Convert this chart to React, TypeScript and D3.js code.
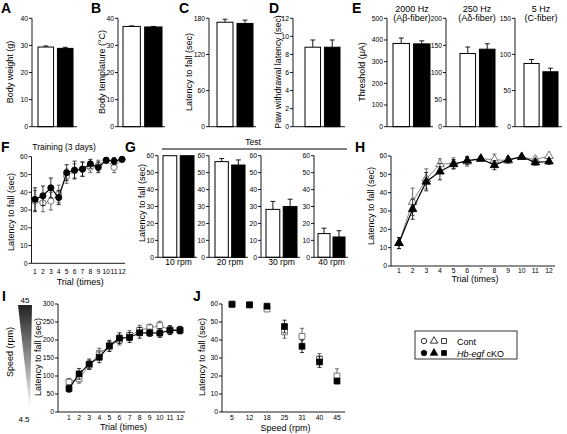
import React from 'react';
import * as d3 from 'd3';

const FONT = '"Liberation Sans", Arial, Helvetica, sans-serif';
const groups = ['Cont', 'cKO'];

// Panel A-E bar data [Cont, cKO]
const bodyWeight = [29.4, 28.9];
const bodyWeightErr = [0.4, 0.4];
const bodyTemp = [37.0, 36.8];
const bodyTempErr = [0.2, 0.2];
const latencyC = [173.5, 171.5];
const latencyCErr = [5, 5.5];
const pawLatency = [8.8, 8.8];
const pawLatencyErr = [0.8, 0.8];
const thr2000 = [384, 382];
const thr2000Err = [25, 14];
const thr250 = [135, 143];
const thr250Err = [12, 10];
const thr5 = [87.5, 76];
const thr5Err = [5.5, 5];

// Panel G
const testSpeeds = ['10 rpm', '20 rpm', '30 rpm', '40 rpm'];
const testValues = [[60, 60], [56.5, 54.5], [28.3, 30], [14, 12]];
const testErrs = [[0, 0], [1.8, 3], [4.7, 4.3], [3.2, 3.7]];

// Trials
const trials = [1, 2, 3, 4, 5, 6, 7, 8, 9, 10, 11, 12];

// Panel F
const fCont = [35, 34, 35, 39, 49, 52, 53, 54, 55, 58, 54, 58.5];
const fContErr = [6, 5, 5, 5, 4, 4, 4, 3, 3, 1.5, 3, 1];
const fKO = [36, 38, 42.5, 37, 51, 52.5, 53, 56, 54, 58, 57.5, 58.5];
const fKOErr = [6.5, 5.5, 5.5, 4, 4.5, 5, 4, 2.5, 3, 1.5, 2, 1];

// Panel H
const hCont = [12.5, 35, 47.5, 55.5, 56, 57, 58.5, 58, 57.5, 59.5, 58, 60];
const hContErr = [3, 7.5, 5.5, 3, 3, 2.5, 1, 3, 1.5, 0.8, 1.5, 0.8];
const hKO = [12.5, 31, 46, 51.5, 55.5, 57.5, 58.5, 55, 58, 59.5, 56.5, 57];
const hKOErr = [3, 5.5, 5, 4.5, 2.5, 2, 1, 2.5, 1.5, 0.8, 1.5, 1.5];

// Panel I
const iCont = [83, 92, 130, 163, 182, 200, 212, 227, 234, 240, 228, 228];
const iContErr = [10, 12, 12, 14, 14, 14, 14, 14, 10, 12, 12, 10];
const iKO = [65, 106, 133, 152, 184, 205, 207, 220, 220, 219, 227, 227];
const iKOErr = [10, 15, 14, 15, 15, 15, 14, 15, 10, 12, 12, 10];

// Panel J
const jSpeeds = ['5', '12', '18', '25', '31', '40', '45'];
const jCont = [60, 59.6, 57.2, 44.5, 42, 29.5, 20];
const jContErr = [0.3, 0.3, 1, 3.5, 4.5, 3, 4];
const jKO = [59.8, 59.5, 58.8, 47.5, 36.5, 27.8, 17.2];
const jKOErr = [0.3, 0.3, 0.8, 3.5, 3.5, 3, 1.5];

const ticks40 = [0, 10, 20, 30, 40];
const ticks180 = [0, 60, 120, 180];
const ticks12 = [0, 2, 4, 6, 8, 10, 12];
const ticks500 = [0, 100, 200, 300, 400, 500];
const ticks200 = [0, 50, 100, 150, 200];
const ticks150 = [0, 50, 100, 150];
const ticks60 = [0, 10, 20, 30, 40, 50, 60];
const ticks300 = [0, 50, 100, 150, 200, 250, 300];

const SW = 0.9;
const TICK_FS = 6.8;

function YAxis({ y, x, ticks }: any) {
  const [y0, y1] = y.range();
  return (
    <g>
      <line x1={x} x2={x} y1={y0} y2={y1} stroke="#000" strokeWidth={SW} />
      {ticks.map((t: number) => (
        <g key={t}>
          <line x1={x - 3} x2={x} y1={y(t)} y2={y(t)} stroke="#000" strokeWidth={SW} />
          <text x={x - 4} y={y(t)} dy="0.35em" textAnchor="end" fontSize={TICK_FS}>{t}</text>
        </g>
      ))}
    </g>
  );
}

function RotLabel({ x, y, text, size = 9 }: any) {
  return (
    <text transform={`translate(${x},${y}) rotate(-90)`} textAnchor="middle" dy="0.35em" fontSize={size}>{text}</text>
  );
}

function BarPanel({ axisX, bx0, bx1, endX, top, bottom, max, ticks, values, errs, xLabel }: any) {
  const y = d3.scaleLinear().domain([0, max]).range([bottom, top]);
  const x = d3.scaleBand().domain(groups).range([bx0, bx1]).paddingInner(0.2);
  return (
    <g>
      {groups.map((g, i) => {
        const bx = x(g)!;
        const w = x.bandwidth();
        const cx = bx + w / 2;
        return (
          <g key={g}>
            {errs[i] > 0 && (
              <g>
                <line x1={cx} x2={cx} y1={y(values[i])} y2={y(values[i] + errs[i])} stroke="#000" strokeWidth={SW} />
                <line x1={cx - 2.5} x2={cx + 2.5} y1={y(values[i] + errs[i])} y2={y(values[i] + errs[i])} stroke="#000" strokeWidth={SW} />
              </g>
            )}
            <rect x={bx} y={y(values[i])} width={w} height={bottom - y(values[i])}
              fill={i === 0 ? '#fff' : '#000'} stroke="#000" strokeWidth={1} />
          </g>
        );
      })}
      <line x1={axisX} x2={endX} y1={bottom} y2={bottom} stroke="#000" strokeWidth={SW} />
      <YAxis y={y} x={axisX} ticks={ticks} />
      {xLabel && <text x={(bx0 + bx1) / 2} y={bottom + 8} textAnchor="middle" fontSize={8.5}>{xLabel}</text>}
    </g>
  );
}

function symPath(type: any, size: number) {
  return d3.symbol().type(type).size(size)()!;
}

function Series({ x, y, cats, vals, errs, filled, type, size, line }: any) {
  const pts = cats.map((c: any, i: number) => [x(c), y(vals[i])]);
  const path = d3.line()(pts as any);
  return (
    <g>
      {line && <path d={path!} fill="none" stroke={filled ? '#000' : '#666'} strokeWidth={filled ? 1.2 : 0.8} />}
      {cats.map((c: any, i: number) => {
        const cx = x(c);
        const yt = y(vals[i] + errs[i]);
        const yb = y(vals[i] - errs[i]);
        const col = filled ? '#000' : '#444';
        return (
          <g key={'e' + i}>
            <line x1={cx} x2={cx} y1={yt} y2={yb} stroke={col} strokeWidth={0.8} />
            <line x1={cx - 2} x2={cx + 2} y1={yt} y2={yt} stroke={col} strokeWidth={0.8} />
            <line x1={cx - 2} x2={cx + 2} y1={yb} y2={yb} stroke={col} strokeWidth={0.8} />
          </g>
        );
      })}
      {cats.map((c: any, i: number) => (
        <path key={'m' + i} d={symPath(type, size)} transform={`translate(${x(c)},${y(vals[i])})`}
          fill={filled ? '#000' : '#fff'} stroke={filled ? '#000' : '#555'} strokeWidth={0.8} />
      ))}
    </g>
  );
}

function LinePanel({ axisX, endX, top, bottom, max, ticks, cats, firstX, lastX, series, xTitle, tickY, titleY, tickSize = TICK_FS, ordinal }: any) {
  const y = d3.scaleLinear().domain([0, max]).range([bottom, top]);
  const x: any = ordinal
    ? d3.scalePoint().domain(cats).range([firstX, lastX])
    : d3.scaleLinear().domain([cats[0], cats[cats.length - 1]]).range([firstX, lastX]);
  return (
    <g>
      <line x1={axisX} x2={endX} y1={bottom} y2={bottom} stroke="#000" strokeWidth={SW} />
      <YAxis y={y} x={axisX} ticks={ticks} />
      {cats.map((c: any) => (
        <text key={c} x={x(c)} y={tickY} textAnchor="middle" fontSize={tickSize}>{c}</text>
      ))}
      <text x={(axisX + endX) / 2 + 2} y={titleY} textAnchor="middle" fontSize={9}>{xTitle}</text>
      {series.map((s: any, k: number) => (
        <Series key={k} x={x} y={y} cats={cats} {...s} />
      ))}
    </g>
  );
}

function Letter({ x, y, t }: any) {
  return <text x={x} y={y} fontSize={14} fontWeight="bold">{t}</text>;
}

export default function App() {
  const topT = 18.3, topB = 126.7;
  const gT = 155.7, gB = 257.3;
  return (
    <svg width={567} height={434} style={{ position: 'absolute', left: 0, top: 0, background: '#fff' }}
      fontFamily={FONT}>
      <rect x={0} y={0} width={567} height={434} fill="#fff" />
      <defs>
        <linearGradient id="wedge" x1="0" y1="0" x2="0" y2="1">
          <stop offset="0" stopColor="#222" />
          <stop offset="1" stopColor="#fff" />
        </linearGradient>
      </defs>

      {/* Letters */}
      <Letter x={1} y={13} t="A" />
      <Letter x={91} y={13} t="B" />
      <Letter x={179} y={13} t="C" />
      <Letter x={269} y={13} t="D" />
      <Letter x={352} y={13} t="E" />
      <Letter x={1} y={152} t="F" />
      <Letter x={125} y={152} t="G" />
      <Letter x={355} y={152} t="H" />
      <Letter x={2} y={301} t="I" />
      <Letter x={193} y={301} t="J" />

      {/* A */}
      <BarPanel axisX={32} bx0={38} bx1={73} endX={77} top={topT} bottom={topB} max={40} ticks={ticks40} values={bodyWeight} errs={bodyWeightErr} />
      <RotLabel x={10} y={72} text="Body weight (g)" />
      {/* B */}
      <BarPanel axisX={118} bx0={123} bx1={162} endX={165} top={topT} bottom={topB} max={40} ticks={ticks40} values={bodyTemp} errs={bodyTempErr} />
      <RotLabel x={102} y={72} text="Body templature (°C)" />
      {/* C */}
      <BarPanel axisX={209} bx0={217} bx1={253} endX={256} top={topT} bottom={topB} max={180} ticks={ticks180} values={latencyC} errs={latencyCErr} />
      <RotLabel x={189} y={72} text="Latency to fall (sec)" />
      {/* D */}
      <BarPanel axisX={293} bx0={305} bx1={340} endX={345} top={topT} bottom={topB} max={12} ticks={ticks12} values={pawLatency} errs={pawLatencyErr} />
      <RotLabel x={277.5} y={72} text="Paw withdrawal latency (sec)" size={8.8} />
      {/* E */}
      <BarPanel axisX={387} bx0={393} bx1={430} endX={433} top={topT} bottom={topB} max={500} ticks={ticks500} values={thr2000} errs={thr2000Err} />
      <BarPanel axisX={446} bx0={460} bx1={495} endX={498} top={topT} bottom={topB} max={200} ticks={ticks200} values={thr250} errs={thr250Err} />
      <BarPanel axisX={515} bx0={524} bx1={558} endX={562} top={topT} bottom={topB} max={150} ticks={ticks150} values={thr5} errs={thr5Err} />
      <RotLabel x={362} y={72} text="Threshold (μA)" />
      <text x={412} y={12} textAnchor="middle" fontSize={9}>2000 Hz</text>
      <text x={412} y={21} textAnchor="middle" fontSize={9}>(Aβ-fiber)</text>
      <text x={477} y={12} textAnchor="middle" fontSize={9}>250 Hz</text>
      <text x={477} y={21} textAnchor="middle" fontSize={9}>(Aδ-fiber)</text>
      <text x={541} y={12} textAnchor="middle" fontSize={9}>5 Hz</text>
      <text x={541} y={21} textAnchor="middle" fontSize={9}>(C-fiber)</text>

      {/* F */}
      <text x={64} y={150} textAnchor="middle" fontSize={8.5}>Training (3 days)</text>
      <LinePanel axisX={31.5} endX={125} top={156.7} bottom={263.3} max={60} ticks={ticks60} cats={trials}
        firstX={35} lastX={122} tickY={273.5} titleY={285} xTitle="Trial (times)" tickSize={6.8}
        series={[
          { vals: fCont, errs: fContErr, filled: false, type: d3.symbolCircle, size: 30, line: true },
          { vals: fKO, errs: fKOErr, filled: true, type: d3.symbolCircle, size: 30, line: true },
        ]} />
      <RotLabel x={11} y={212} text="Latency to fall (sec)" />

      {/* G */}
      <text x={253} y={145} textAnchor="middle" fontSize={8.5}>Test</text>
      <line x1={162} x2={347} y1={149} y2={149} stroke="#000" strokeWidth={1} />
      {testSpeeds.map((s, i) => {
        const axes = [158, 209, 261, 314];
        const b0 = [163, 215, 266, 318];
        const b1 = [194, 245, 297, 345];
        return (
          <BarPanel key={s} axisX={axes[i]} bx0={b0[i]} bx1={b1[i]} endX={b1[i] + 3} top={gT} bottom={gB} max={60}
            ticks={ticks60} values={testValues[i]} errs={testErrs[i]} xLabel={s} />
        );
      })}
      <RotLabel x={142} y={203} text="Latency to fall (sec)" />

      {/* H */}
      <LinePanel axisX={391} endX={555} top={156} bottom={266} max={60} ticks={ticks60} cats={trials}
        firstX={399} lastX={549} tickY={272.5} titleY={282} xTitle="Trial (times)"
        series={[
          { vals: hCont, errs: hContErr, filled: false, type: d3.symbolTriangle, size: 32, line: true },
          { vals: hKO, errs: hKOErr, filled: true, type: d3.symbolTriangle, size: 32, line: true },
        ]} />
      <RotLabel x={371} y={206} text="Latency to fall (sec)" />

      {/* I */}
      <polygon points="18,305 32,305 30,411" fill="url(#wedge)" />
      <text x={25} y={303} textAnchor="middle" fontSize={8}>45</text>
      <text x={24} y={422} textAnchor="middle" fontSize={8}>4.5</text>
      <RotLabel x={10} y={352} text="Speed (rpm)" />
      <LinePanel axisX={58} endX={185} top={304} bottom={412} max={300} ticks={ticks300} cats={trials}
        firstX={69} lastX={180} tickY={420} titleY={430} xTitle="Trial (times)"
        series={[
          { vals: iCont, errs: iContErr, filled: false, type: d3.symbolSquare, size: 34, line: true },
          { vals: iKO, errs: iKOErr, filled: true, type: d3.symbolSquare, size: 34, line: true },
        ]} />
      <RotLabel x={38} y={357} text="Latency to fall (sec)" />

      {/* J */}
      <LinePanel axisX={222} endX={345} top={304} bottom={412} max={60} ticks={ticks60} cats={jSpeeds} ordinal
        firstX={232} lastX={337} tickY={420} titleY={431} xTitle="Speed (rpm)"
        series={[
          { vals: jCont, errs: jContErr, filled: false, type: d3.symbolSquare, size: 34, line: false },
          { vals: jKO, errs: jKOErr, filled: true, type: d3.symbolSquare, size: 34, line: false },
        ]} />
      <RotLabel x={202} y={357} text="Latency to fall (sec)" />

      {/* Legend */}
      <rect x={415} y={331} width={102} height={28} fill="none" stroke="#000" strokeWidth={0.8} />
      {[d3.symbolCircle, d3.symbolTriangle, d3.symbolSquare].map((t, i) => (
        <g key={i}>
          <path d={symPath(t, 24)} transform={`translate(${424 + i * 10},${341})`} fill="#fff" stroke="#000" strokeWidth={0.8} />
          <path d={symPath(t, 24)} transform={`translate(${424 + i * 10},${353})`} fill="#000" stroke="#000" strokeWidth={0.8} />
        </g>
      ))}
      <text x={457} y={344.5} fontSize={9}>Cont</text>
      <text x={457} y={356.5} fontSize={9}><tspan fontStyle="italic">Hb-egf</tspan> cKO</text>
    </svg>
  );
}
